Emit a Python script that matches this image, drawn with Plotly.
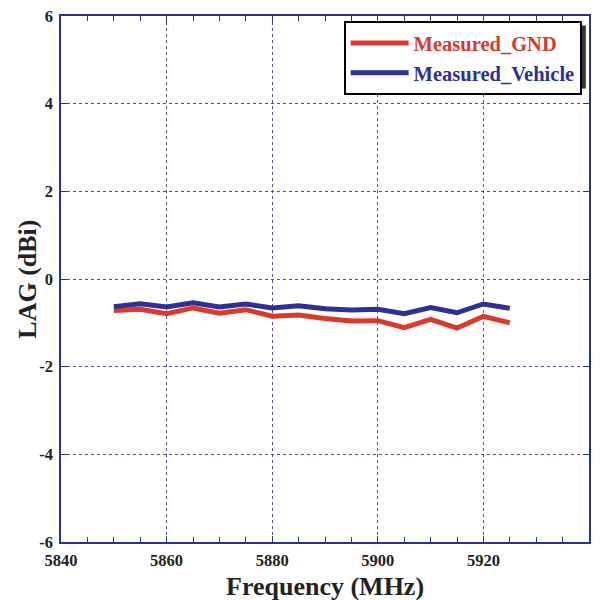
import plotly.graph_objects as go

freq = [5850, 5855, 5860, 5865, 5870, 5875, 5880, 5885, 5890, 5895, 5900, 5905, 5910, 5915, 5920, 5925]
gnd = [-0.72, -0.69, -0.79, -0.66, -0.78, -0.70, -0.85, -0.82, -0.90, -0.96, -0.95, -1.11, -0.92, -1.12, -0.85, -1.00]
vehicle = [-0.63, -0.565, -0.64, -0.54, -0.64, -0.57, -0.66, -0.61, -0.68, -0.71, -0.69, -0.79, -0.65, -0.77, -0.57, -0.67]

x_ticks = [5840, 5860, 5880, 5900, 5920, 5940]
y_ticks = [-6, -4, -2, 0, 2, 4, 6]

RED = "#d93a2b"
BLUE = "#2e3192"
AX = "#2e3192"
FONT = "Liberation Serif"

fig = go.Figure()
fig.add_trace(go.Scatter(x=freq, y=gnd, mode="lines", name="Measured_GND",
                         line=dict(color=RED, width=5)))
fig.add_trace(go.Scatter(x=freq, y=vehicle, mode="lines", name="Measured_Vehicle",
                         line=dict(color=BLUE, width=5)))

axis_common = dict(
    showline=True, linecolor=AX, linewidth=1.5, mirror="ticks",
    showgrid=True, gridcolor="rgba(46,49,146,0.85)", griddash="dot", gridwidth=1,
    ticks="inside", tickcolor=AX, ticklen=6, tickwidth=1,
    zeroline=False, automargin=False,
    tickfont=dict(family=FONT, size=16.5, color="#222222"),
)

fig.update_xaxes(
    range=[5840, 5940], tickvals=x_ticks, ticktext=[f"<b>{v}</b>" for v in x_ticks],
    ticklabelstandoff=2,
    minor=dict(dtick=5, tick0=5840, ticks="inside", ticklen=5, tickcolor=AX, showgrid=False),
    **axis_common,
)
fig.update_yaxes(
    range=[-6, 6], tickvals=y_ticks, ticktext=[f"<b>{v}</b>" for v in y_ticks],
    ticklabelstandoff=3,
    **axis_common,
)

fig.update_layout(
    width=605, height=600,
    margin=dict(l=61, r=16, t=16, b=58),
    plot_bgcolor="white", paper_bgcolor="white",
    font=dict(family=FONT, size=16.5),
    legend=dict(
        x=0.986, y=0.99, xanchor="right", yanchor="top",
        bgcolor="white", bordercolor="black", borderwidth=2,
        font=dict(family=FONT, size=20.5),
        itemwidth=58, tracegroupgap=0,
    ),
    shapes=[dict(type="rect", xref="paper", yref="paper",
                 x0=0.55, x1=0.994, y0=0.862, y1=0.982,
                 fillcolor="#333333", line=dict(width=0), layer="above")],
    annotations=[
        dict(text="<b>Frequency (MHz)</b>", xref="paper", yref="paper",
             x=0.5, y=-0.084, xanchor="center", yanchor="middle", showarrow=False,
             font=dict(family=FONT, size=26, color="#222222")),
        dict(text="<b>LAG (dBi)</b>", xref="paper", yref="paper",
             x=-0.065, y=0.5, xanchor="center", yanchor="middle", showarrow=False,
             textangle=-90, font=dict(family=FONT, size=26, color="#222222")),
    ],
)

# bold, colored legend text
for tr in fig.data:
    tr.name = f"<b><span style='color:{tr.line.color}'>{tr.name}</span></b>"

fig.write_html("out.html")
